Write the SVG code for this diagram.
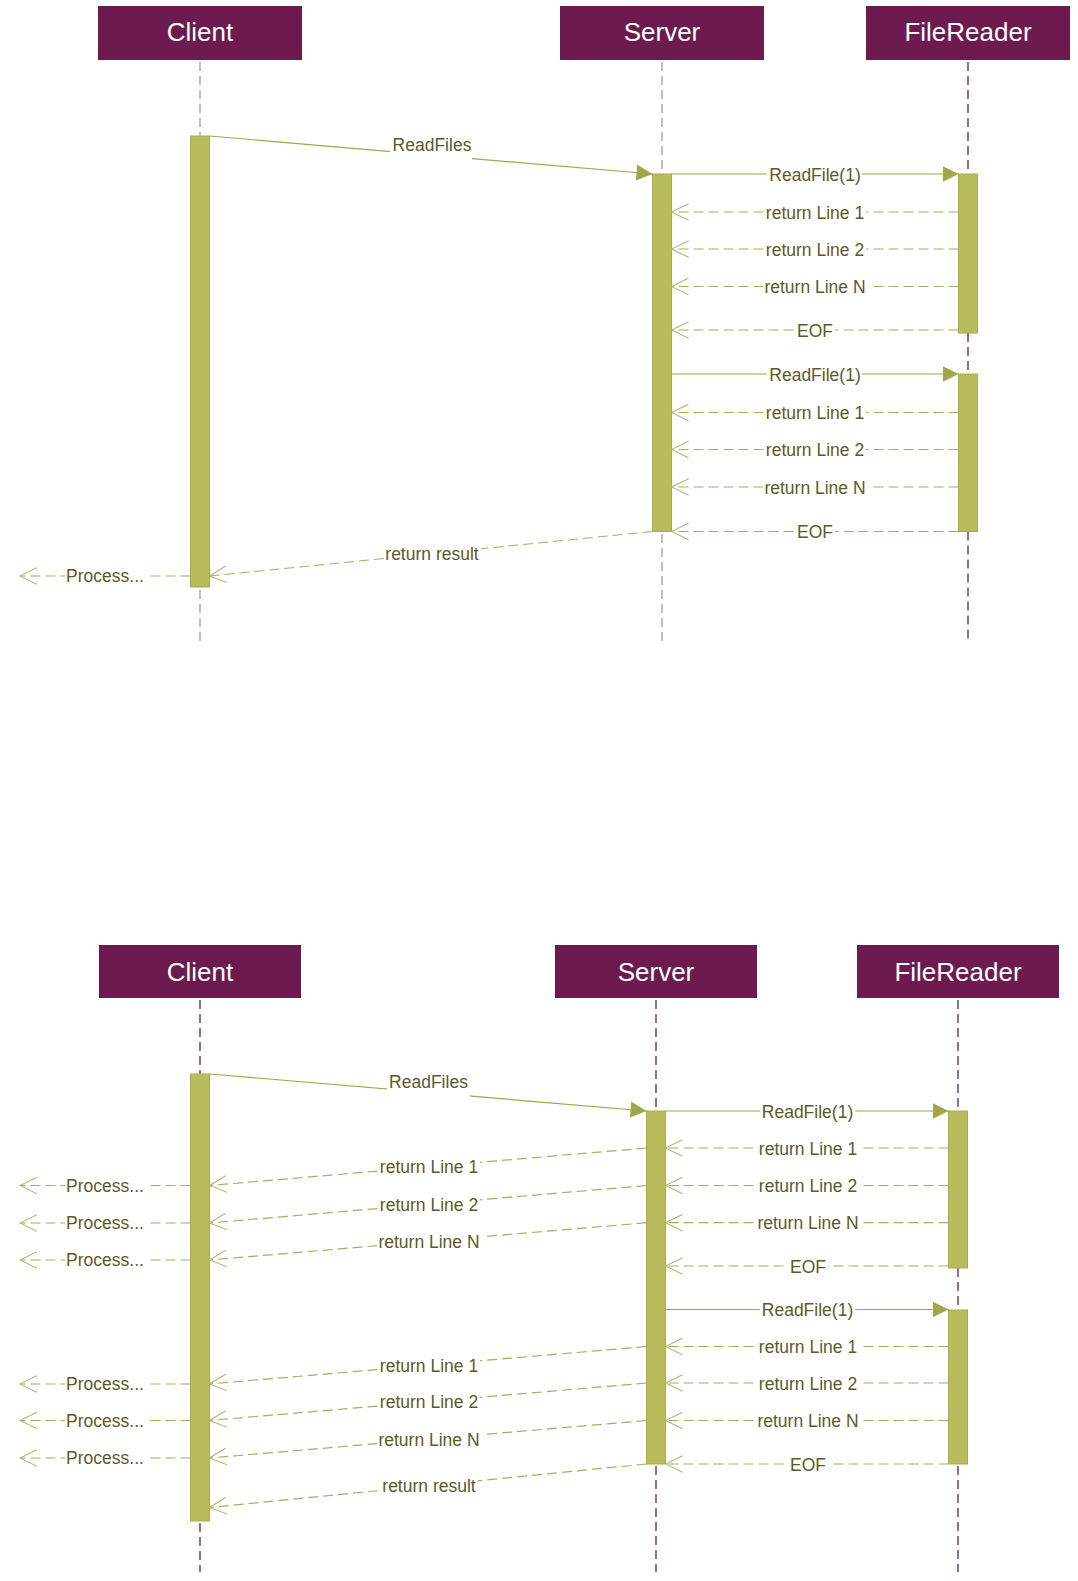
<svg xmlns="http://www.w3.org/2000/svg" width="1078" height="1581" viewBox="0 0 1078 1581">
<style>
.hdr{fill:#6d1b4e}
.htxt{font-family:"Liberation Sans",Arial,sans-serif;font-size:26px;fill:#ffffff;text-anchor:middle}
.ll{stroke:#6d1b4e;stroke-width:1.3;stroke-dasharray:9,5;fill:none}
.ll2{stroke:#bea8b5;stroke-width:1.6;stroke-dasharray:9,5;fill:none}
.bar{fill:#b9bc5d;stroke:#a8ab4c;stroke-width:1}
.call{stroke:#a2a54a;stroke-width:1.2;fill:none;marker-end:url(#arrFill)}
.ret{stroke:#aaac5c;stroke-width:1.2;stroke-dasharray:10,5;fill:none;marker-end:url(#arrOpen)}
.lbl{font-family:"Liberation Sans",Arial,sans-serif;font-size:17.5px;fill:#5e5a26;text-anchor:middle}
.bg{fill:#ffffff}
</style>
<defs>
<marker id="arrFill" markerUnits="userSpaceOnUse" markerWidth="16" markerHeight="16" refX="16" refY="8" orient="auto" viewBox="0 0 16 16">
<path d="M0,0 L16,8 L0,16 Z" fill="#a2a54a"/>
</marker>
<marker id="arrOpen" markerUnits="userSpaceOnUse" markerWidth="18" markerHeight="18" refX="17" refY="9" orient="auto" viewBox="0 0 18 18">
<path d="M0,0.7 L17,9 L0,17.3" fill="none" stroke="#b3b56e" stroke-width="1.1" stroke-dasharray="none"/>
</marker>
</defs>
<rect width="1078" height="1581" fill="#ffffff"/>

<!-- ===== Top diagram ===== -->
<g id="top-client">
<rect class="hdr" x="98" y="6" width="204" height="54"/>
<text class="htxt" x="200" y="41">Client</text>
<path class="ll2" d="M200,62 V136 M200,590 V641"/>
<rect class="bar" x="190.5" y="136" width="19" height="451"/>
</g>
<g id="top-server">
<rect class="hdr" x="560" y="6" width="204" height="54"/>
<text class="htxt" x="662" y="41">Server</text>
<path class="ll2" d="M662,62 V174 M662,534 V641"/>
<rect class="bar" x="652.5" y="174" width="19" height="357.5"/>
</g>
<g id="top-filereader">
<rect class="hdr" x="866" y="6" width="204" height="54"/>
<text class="htxt" x="968" y="41">FileReader</text>
<path class="ll" d="M968,62 V174 M968,333 V374 M968,531.5 V641"/>
<rect class="bar" x="958.5" y="174" width="19" height="159"/>
<rect class="bar" x="958.5" y="374" width="19" height="157.5"/>
</g>

<g id="top-connectors">
<g><path class="call" d="M209.5,136 L652.5,174"/><rect class="bg" x="390" y="134" width="82" height="27"/><text class="lbl" x="432" y="150.5">ReadFiles</text></g>
<g><path class="call" d="M671.5,174 L958.5,174"/><rect class="bg" x="767" y="163" width="95" height="22"/><text class="lbl" x="815" y="180.5">ReadFile(1)</text></g>
<g><path class="ret" d="M958.5,212 L671.5,212"/><rect class="bg" x="764" y="201" width="102" height="22"/><text class="lbl" x="815" y="218.5">return Line 1</text></g>
<g><path class="ret" d="M958.5,249 L671.5,249"/><rect class="bg" x="764" y="238" width="102" height="22"/><text class="lbl" x="815" y="255.5">return Line 2</text></g>
<g><path class="ret" d="M958.5,286.5 L671.5,286.5"/><rect class="bg" x="763" y="275" width="105" height="22"/><text class="lbl" x="815" y="293">return Line N</text></g>
<g><path class="ret" d="M958.5,330 L671.5,330"/><rect class="bg" x="795" y="319" width="40" height="22"/><text class="lbl" x="815" y="336.5">EOF</text></g>
<g><path class="call" d="M671.5,374 L958.5,374"/><rect class="bg" x="767" y="363" width="95" height="22"/><text class="lbl" x="815" y="380.5">ReadFile(1)</text></g>
<g><path class="ret" d="M958.5,412.5 L671.5,412.5"/><rect class="bg" x="764" y="401" width="102" height="22"/><text class="lbl" x="815" y="419">return Line 1</text></g>
<g><path class="ret" d="M958.5,449.5 L671.5,449.5"/><rect class="bg" x="764" y="438" width="102" height="22"/><text class="lbl" x="815" y="456">return Line 2</text></g>
<g><path class="ret" d="M958.5,487 L671.5,487"/><rect class="bg" x="763" y="476" width="105" height="22"/><text class="lbl" x="815" y="493.5">return Line N</text></g>
<g><path class="ret" d="M958.5,531.5 L671.5,531.5"/><rect class="bg" x="795" y="520" width="40" height="22"/><text class="lbl" x="815" y="538">EOF</text></g>
<g><path class="ret" d="M652.5,531.5 L209.5,576"/><rect class="bg" x="384" y="542" width="97" height="23"/><text class="lbl" x="432" y="560">return result</text></g>
<g><path class="ret" d="M190.5,576 L20,576"/><rect class="bg" x="65" y="566" width="81" height="21"/><text class="lbl" x="105" y="582">Process...</text></g>
</g>

<!-- ===== Bottom diagram ===== -->
<g id="bot-client">
<rect class="hdr" x="99" y="945" width="202" height="53"/>
<text class="htxt" x="200" y="980.5">Client</text>
<path class="ll" d="M200,1000 V1074 M200,1523 V1572"/>
<rect class="bar" x="190.5" y="1074" width="19" height="447"/>
</g>
<g id="bot-server">
<rect class="hdr" x="555" y="945" width="202" height="53"/>
<text class="htxt" x="656" y="980.5">Server</text>
<path class="ll" d="M656,1000 V1111 M656,1466 V1572"/>
<rect class="bar" x="646.5" y="1111" width="19" height="353"/>
</g>
<g id="bot-filereader">
<rect class="hdr" x="857" y="945" width="202" height="53"/>
<text class="htxt" x="958" y="980.5">FileReader</text>
<path class="ll" d="M958,1000 V1111 M958,1268 V1310 M958,1466 V1572"/>
<rect class="bar" x="948.5" y="1111" width="19" height="157"/>
<rect class="bar" x="948.5" y="1310" width="19" height="154"/>
</g>

<g id="bot-connectors">
<g><path class="call" d="M209.5,1074 L646.5,1111"/><rect class="bg" x="387" y="1071" width="83" height="28"/><text class="lbl" x="428.5" y="1088">ReadFiles</text></g>
<g><path class="call" d="M665.5,1111 L948.5,1111"/><rect class="bg" x="760" y="1100" width="95" height="22"/><text class="lbl" x="807.5" y="1117.5">ReadFile(1)</text></g>
<g><path class="ret" d="M948.5,1148 L665.5,1148"/><rect class="bg" x="757" y="1137" width="102" height="22"/><text class="lbl" x="808" y="1154.5">return Line 1</text></g>
<g><path class="ret" d="M948.5,1185.5 L665.5,1185.5"/><rect class="bg" x="757" y="1174" width="102" height="22"/><text class="lbl" x="808" y="1192">return Line 2</text></g>
<g><path class="ret" d="M948.5,1222.7 L665.5,1222.7"/><rect class="bg" x="756" y="1211" width="105" height="22"/><text class="lbl" x="808" y="1229.2">return Line N</text></g>
<g><path class="ret" d="M948.5,1266 L665.5,1266"/><rect class="bg" x="788" y="1255" width="40" height="22"/><text class="lbl" x="808" y="1272.5">EOF</text></g>
<g><path class="call" d="M665.5,1309.5 L948.5,1309.5"/><rect class="bg" x="760" y="1298" width="95" height="22"/><text class="lbl" x="807.5" y="1316">ReadFile(1)</text></g>
<g><path class="ret" d="M948.5,1346.5 L665.5,1346.5"/><rect class="bg" x="757" y="1335" width="102" height="22"/><text class="lbl" x="808" y="1353">return Line 1</text></g>
<g><path class="ret" d="M948.5,1383 L665.5,1383"/><rect class="bg" x="757" y="1372" width="102" height="22"/><text class="lbl" x="808" y="1389.5">return Line 2</text></g>
<g><path class="ret" d="M948.5,1420.5 L665.5,1420.5"/><rect class="bg" x="756" y="1409" width="105" height="22"/><text class="lbl" x="808" y="1427">return Line N</text></g>
<g><path class="ret" d="M948.5,1464 L665.5,1464"/><rect class="bg" x="788" y="1453" width="40" height="22"/><text class="lbl" x="808" y="1470.5">EOF</text></g>

<g><path class="ret" d="M646.5,1148 L209.5,1185.5"/><rect class="bg" x="378" y="1155" width="102" height="23"/><text class="lbl" x="429" y="1173.2">return Line 1</text></g>
<g><path class="ret" d="M646.5,1185.5 L209.5,1223"/><rect class="bg" x="378" y="1192.5" width="102" height="23"/><text class="lbl" x="429" y="1210.7">return Line 2</text></g>
<g><path class="ret" d="M646.5,1222.7 L209.5,1260"/><rect class="bg" x="377" y="1229.5" width="105" height="23"/><text class="lbl" x="429" y="1247.8">return Line N</text></g>
<g><path class="ret" d="M646.5,1346.5 L209.5,1384"/><rect class="bg" x="378" y="1353.5" width="102" height="23"/><text class="lbl" x="429" y="1371.7">return Line 1</text></g>
<g><path class="ret" d="M646.5,1383 L209.5,1420.5"/><rect class="bg" x="378" y="1390" width="102" height="23"/><text class="lbl" x="429" y="1408.2">return Line 2</text></g>
<g><path class="ret" d="M646.5,1420.5 L209.5,1458"/><rect class="bg" x="377" y="1427.5" width="105" height="23"/><text class="lbl" x="429" y="1445.7">return Line N</text></g>
<g><path class="ret" d="M646.5,1464 L209.5,1507.5"/><rect class="bg" x="381" y="1473.5" width="97" height="24"/><text class="lbl" x="429" y="1492.2">return result</text></g>

<g><path class="ret" d="M190.5,1185.5 L20,1185.5"/><rect class="bg" x="65" y="1175" width="81" height="21"/><text class="lbl" x="105" y="1191.5">Process...</text></g>
<g><path class="ret" d="M190.5,1223 L20,1223"/><rect class="bg" x="65" y="1212.5" width="81" height="21"/><text class="lbl" x="105" y="1229">Process...</text></g>
<g><path class="ret" d="M190.5,1260 L20,1260"/><rect class="bg" x="65" y="1249.5" width="81" height="21"/><text class="lbl" x="105" y="1266">Process...</text></g>
<g><path class="ret" d="M190.5,1384 L20,1384"/><rect class="bg" x="65" y="1373.5" width="81" height="21"/><text class="lbl" x="105" y="1390">Process...</text></g>
<g><path class="ret" d="M190.5,1420.5 L20,1420.5"/><rect class="bg" x="65" y="1410" width="81" height="21"/><text class="lbl" x="105" y="1426.5">Process...</text></g>
<g><path class="ret" d="M190.5,1458 L20,1458"/><rect class="bg" x="65" y="1447.5" width="81" height="21"/><text class="lbl" x="105" y="1464">Process...</text></g>
</g>
</svg>
